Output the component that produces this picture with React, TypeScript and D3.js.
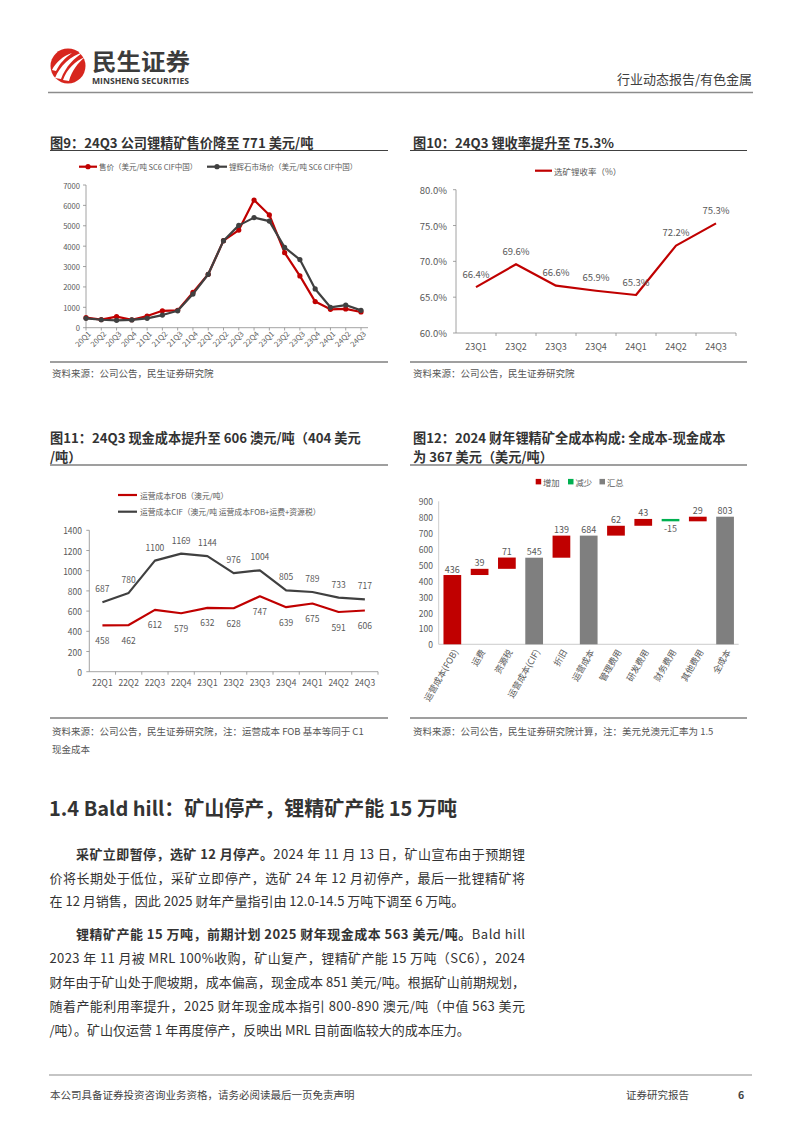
import React from 'react';
import * as d3 from 'd3';

const FONT = '"Noto Sans CJK SC", "Noto Sans", sans-serif';
const RED = '#C00000';
const DARK = '#404040';
const TXT = '#595959';
const AX = '#8C8C8C';

// Chart 1 (图9)
const quarters1 = ['20Q1','20Q2','20Q3','20Q4','21Q1','21Q2','21Q3','21Q4','22Q1','22Q2','22Q3','22Q4','23Q1','23Q2','23Q3','23Q4','24Q1','24Q2','24Q3'];
const salePrice = [490, 400, 540, 390, 570, 830, 850, 1730, 2620, 4270, 4790, 6260, 5530, 3680, 2540, 1280, 900, 920, 771];
const marketPrice = [460, 390, 360, 380, 460, 620, 830, 1650, 2620, 4270, 5020, 5400, 5230, 3940, 3340, 1900, 1000, 1110, 850];
const ticks1 = [0, 1000, 2000, 3000, 4000, 5000, 6000, 7000];

// Chart 2 (图10)
const quarters2 = ['23Q1','23Q2','23Q3','23Q4','24Q1','24Q2','24Q3'];
const recovery = [66.4, 69.6, 66.6, 65.9, 65.3, 72.2, 75.3];
const ticks2 = [60, 65, 70, 75, 80];

// Chart 3 (图11)
const quarters3 = ['22Q1','22Q2','22Q3','22Q4','23Q1','23Q2','23Q3','23Q4','24Q1','24Q2','24Q3'];
const costFOB = [458, 462, 612, 579, 632, 628, 747, 639, 675, 591, 606];
const costCIF = [687, 780, 1100, 1169, 1144, 976, 1004, 805, 789, 733, 717];
const ticks3 = [0, 200, 400, 600, 800, 1000, 1200, 1400];

// Chart 4 (图12)
const items4 = ['运营成本(FOB)','运费','资源税','运营成本(CIF)','折旧','运营成本','管理费用','研发费用','财务费用','其他费用','全成本'];
const values4 = [436, 39, 71, 545, 139, 684, 62, 43, -15, 29, 803];
const types4 = ['inc','inc','inc','total','inc','total','inc','inc','dec','inc','total'];
const ticks4 = [0, 100, 200, 300, 400, 500, 600, 700, 800, 900];

function Chart1() {
  const x = d3.scalePoint<string>().domain(quarters1).range([86, 361]);
  const y = d3.scaleLinear().domain([0, 7000]).range([327.7, 185]);
  const line = d3.line<number>().x((_, i) => x(quarters1[i])!).y(d => y(d));
  return (
    <g fontFamily={FONT}>
      <line x1={79} x2={97} y1={166.7} y2={166.7} stroke={RED} strokeWidth={2.2} />
      <circle cx={88} cy={166.7} r={2.6} fill={RED} />
      <text x={99} y={166.7} fontSize={7.5} fill={TXT} dominantBaseline="central">售价（美元/吨 SC6 CIF中国）</text>
      <line x1={207} x2={227} y1={166.7} y2={166.7} stroke={DARK} strokeWidth={2.2} />
      <circle cx={217} cy={166.7} r={2.6} fill={DARK} />
      <text x={229} y={166.7} fontSize={7.5} fill={TXT} dominantBaseline="central">锂辉石市场价（美元/吨 SC6 CIF中国）</text>
      <line x1={86} x2={86} y1={185} y2={327.7} stroke={AX} strokeWidth={0.8} />
      <line x1={86} x2={368} y1={327.7} y2={327.7} stroke={AX} strokeWidth={0.8} />
      {ticks1.map(t => (
        <g key={t}>
          <line x1={83} x2={86} y1={y(t)} y2={y(t)} stroke={AX} strokeWidth={0.8} />
          <text x={80} y={y(t)} fontSize={7.6} fill={TXT} textAnchor="end" dominantBaseline="central">{t}</text>
        </g>
      ))}
      {quarters1.map(q => (
        <g key={q}>
          <line x1={x(q)!} x2={x(q)!} y1={327.7} y2={330.5} stroke={AX} strokeWidth={0.8} />
          <text transform={`translate(${x(q)! + 3},${332}) rotate(-45)`} fontSize={7.6} fill={TXT} textAnchor="end" dominantBaseline="central">{q}</text>
        </g>
      ))}
      <path d={line(salePrice)!} fill="none" stroke={RED} strokeWidth={2.2} strokeLinejoin="round" />
      {salePrice.map((v, i) => <circle key={i} cx={x(quarters1[i])!} cy={y(v)} r={2.6} fill={RED} />)}
      <path d={line(marketPrice)!} fill="none" stroke={DARK} strokeWidth={2.2} strokeLinejoin="round" />
      {marketPrice.map((v, i) => <circle key={i} cx={x(quarters1[i])!} cy={y(v)} r={2.6} fill={DARK} />)}
    </g>
  );
}

function Chart2() {
  const x = d3.scaleBand<string>().domain(quarters2).range([456, 736]);
  const y = d3.scaleLinear().domain([60, 80]).range([333, 189.7]);
  const cx = (i: number) => x(quarters2[i])! + x.bandwidth() / 2;
  const line = d3.line<number>().x((_, i) => cx(i)).y(d => y(d));
  return (
    <g fontFamily={FONT}>
      <line x1={535} x2={552} y1={170.7} y2={170.7} stroke={RED} strokeWidth={2.2} />
      <text x={554} y={170.7} fontSize={8.5} fill={TXT} dominantBaseline="central">选矿锂收率（%）</text>
      <line x1={456} x2={456} y1={189.7} y2={333} stroke={AX} strokeWidth={0.8} />
      <line x1={456} x2={736} y1={333} y2={333} stroke={AX} strokeWidth={0.8} />
      {ticks2.map(t => (
        <g key={t}>
          <line x1={453} x2={456} y1={y(t)} y2={y(t)} stroke={AX} strokeWidth={0.8} />
          <text x={447} y={y(t)} fontSize={9.5} fill={TXT} textAnchor="end" dominantBaseline="central">{t.toFixed(1)}%</text>
        </g>
      ))}
      {quarters2.map((q, i) => (
        <g key={q}>
          <line x1={x(q)! + x.bandwidth()} x2={x(q)! + x.bandwidth()} y1={333} y2={336} stroke={AX} strokeWidth={0.8} />
          <text x={cx(i)} y={346.7} fontSize={9} fill={TXT} textAnchor="middle" dominantBaseline="central">{q}</text>
        </g>
      ))}
      <path d={line(recovery)!} fill="none" stroke={RED} strokeWidth={2.2} strokeLinejoin="round" />
      {recovery.map((v, i) => (
        <text key={i} x={cx(i)} y={y(v) - 13.5} fontSize={9.5} fill={TXT} textAnchor="middle" dominantBaseline="central">{v.toFixed(1)}%</text>
      ))}
    </g>
  );
}

function Chart3() {
  const x = d3.scaleBand<string>().domain(quarters3).range([89.3, 378]);
  const y = d3.scaleLinear().domain([0, 1400]).range([671.7, 530.3]);
  const cx = (i: number) => x(quarters3[i])! + x.bandwidth() / 2;
  const line = d3.line<number>().x((_, i) => cx(i)).y(d => y(d));
  return (
    <g fontFamily={FONT}>
      <line x1={118} x2={137} y1={495} y2={495} stroke={RED} strokeWidth={2.2} />
      <text x={140} y={495} fontSize={7.8} fill={TXT} dominantBaseline="central">运营成本FOB（澳元/吨）</text>
      <line x1={118} x2={137} y1={511.7} y2={511.7} stroke={DARK} strokeWidth={2.2} />
      <text x={140} y={511.7} fontSize={7.8} fill={TXT} dominantBaseline="central">运营成本CIF（澳元/吨 运营成本FOB+运费+资源税）</text>
      <line x1={89.3} x2={89.3} y1={530.3} y2={671.7} stroke={AX} strokeWidth={0.8} />
      <line x1={89.3} x2={378} y1={671.7} y2={671.7} stroke={AX} strokeWidth={0.8} />
      {ticks3.map(t => (
        <g key={t}>
          <line x1={86.3} x2={89.3} y1={y(t)} y2={y(t)} stroke={AX} strokeWidth={0.8} />
          <text x={82} y={y(t)} fontSize={8.5} fill={TXT} textAnchor="end" dominantBaseline="central">{t}</text>
        </g>
      ))}
      {quarters3.map((q, i) => (
        <g key={q}>
          <line x1={x(q)! + x.bandwidth()} x2={x(q)! + x.bandwidth()} y1={671.7} y2={674.7} stroke={AX} strokeWidth={0.8} />
          <text x={cx(i)} y={682} fontSize={8.5} fill={TXT} textAnchor="middle" dominantBaseline="central">{q}</text>
        </g>
      ))}
      <path d={line(costCIF)!} fill="none" stroke={DARK} strokeWidth={2.2} strokeLinejoin="round" />
      <path d={line(costFOB)!} fill="none" stroke={RED} strokeWidth={2.2} strokeLinejoin="round" />
      {costCIF.map((v, i) => (
        <text key={'c' + i} x={cx(i)} y={y(v) - 14} fontSize={8.5} fill={TXT} textAnchor="middle" dominantBaseline="central">{v}</text>
      ))}
      {costFOB.map((v, i) => (
        <text key={'f' + i} x={cx(i)} y={y(v) + 14.5} fontSize={8.5} fill={TXT} textAnchor="middle" dominantBaseline="central">{v}</text>
      ))}
    </g>
  );
}

function Chart4() {
  const x = d3.scaleBand<string>().domain(items4).range([438.7, 738.7]).paddingInner(0.35).paddingOuter(0.175);
  const y = d3.scaleLinear().domain([0, 900]).range([644.3, 501.3]);
  let run = 0;
  const bars = values4.map((v, i) => {
    const t = types4[i];
    let lo: number, hi: number;
    if (t === 'total') { lo = 0; hi = v; run = v; }
    else if (v >= 0) { lo = run; hi = run + v; run = hi; }
    else { lo = run + v; hi = run; run = lo; }
    const color = t === 'total' ? '#7F7F7F' : t === 'dec' ? '#00B050' : RED;
    return { name: items4[i], v, t, lo, hi, color };
  });
  return (
    <g fontFamily={FONT}>
      <rect x={535.7} y={478.9} width={5.5} height={5.5} fill={RED} />
      <text x={543} y={481.7} fontSize={8.3} fill={TXT} dominantBaseline="central">增加</text>
      <rect x={568} y={478.9} width={5.5} height={5.5} fill="#00B050" />
      <text x={575.5} y={481.7} fontSize={8.3} fill={TXT} dominantBaseline="central">减少</text>
      <rect x={599.5} y={478.9} width={5.5} height={5.5} fill="#7F7F7F" />
      <text x={607} y={481.7} fontSize={8.3} fill={TXT} dominantBaseline="central">汇总</text>
      <line x1={438.7} x2={438.7} y1={501.3} y2={644.3} stroke="#BFBFBF" strokeWidth={0.8} />
      <line x1={438.7} x2={738.7} y1={644.3} y2={644.3} stroke="#BFBFBF" strokeWidth={0.8} />
      {ticks4.map(t => (
        <text key={t} x={433} y={y(t)} fontSize={8.5} fill={TXT} textAnchor="end" dominantBaseline="central">{t}</text>
      ))}
      {bars.map(b => (
        <g key={b.name}>
          <rect x={x(b.name)!} y={y(b.hi)} width={x.bandwidth()} height={Math.max(1, y(b.lo) - y(b.hi))} fill={b.color} />
          <text x={x(b.name)! + x.bandwidth() / 2} y={b.t === 'dec' ? y(b.lo) + 7 : y(b.hi) - 6} fontSize={9} fill={TXT} textAnchor="middle" dominantBaseline="central">{b.v}</text>
          <text transform={`translate(${x(b.name)! + x.bandwidth() / 2 + 3},${650}) rotate(-60)`} fontSize={8.8} fill={TXT} textAnchor="end" dominantBaseline="central">{b.name}</text>
        </g>
      ))}
    </g>
  );
}

function Logo() {
  return (
    <g>
      <circle cx={68} cy={66} r={17.5} fill="#D7261E" />
      <path d="M55,78 C60,66 70,56 84,52 C74,58 66,66 61,79 Z" fill="#fff" />
      <path d="M63,80 C67,69 75,61 85,57 C78,63 72,70 69,81 Z" fill="#fff" />
      <path d="M52,70 C56,62 63,56 72,53 C65,58 60,63 56,71 Z" fill="#fff" />
      <text x={92} y={70} fontSize={22.5} fontWeight={700} fill="#3C3C3C" fontFamily={FONT} textLength={98} lengthAdjust="spacingAndGlyphs">民生证券</text>
      <text x={92} y={84} fontSize={8} fontWeight={700} fill="#3C3C3C" fontFamily={'"Open Sans", "Noto Sans", sans-serif'} textLength={97} lengthAdjust="spacingAndGlyphs">MINSHENG SECURITIES</text>
    </g>
  );
}

const BODY = '#333333';
const para1 = [
  { bold: '采矿立即暂停，选矿 12 月停产。', rest: '2024 年 11 月 13 日，矿山宣布由于预期锂', indent: true, full: true },
  { bold: '', rest: '价将长期处于低位，采矿立即停产，选矿 24 年 12 月初停产，最后一批锂精矿将', indent: false, full: true },
  { bold: '', rest: '在 12 月销售，因此 2025 财年产量指引由 12.0-14.5 万吨下调至 6 万吨。', indent: false, full: false },
];
const para2 = [
  { bold: '锂精矿产能 15 万吨，前期计划 2025 财年现金成本 563 美元/吨。', rest: 'Bald hill', indent: true, full: true },
  { bold: '', rest: '2023 年 11 月被 MRL 100%收购，矿山复产，锂精矿产能 15 万吨（SC6），2024', indent: false, full: true },
  { bold: '', rest: '财年由于矿山处于爬坡期，成本偏高，现金成本 851 美元/吨。根据矿山前期规划，', indent: false, full: true },
  { bold: '', rest: '随着产能利用率提升，2025 财年现金成本指引 800-890 澳元/吨（中值 563 美元', indent: false, full: true },
  { bold: '', rest: '/吨）。矿山仅运营 1 年再度停产，反映出 MRL 目前面临较大的成本压力。', indent: false, full: false },
];
const lineY1 = [853, 876.5, 900];
const lineY2 = [933, 957, 981, 1005, 1028.5];

function Para({ lines, ys }: { lines: typeof para1; ys: number[] }) {
  return (
    <g fontFamily={FONT} fontSize={13} fill={BODY}>
      {lines.map((l, i) => {
        const x0 = l.indent ? 76 : 49.5;
        const props: any = l.full ? { textLength: 525 - x0, lengthAdjust: 'spacing' } : {};
        return (
          <text key={i} x={x0} y={ys[i]} dominantBaseline="central" {...props}>
            {l.bold ? <tspan fontWeight={700}>{l.bold}</tspan> : null}
            <tspan>{l.rest}</tspan>
          </text>
        );
      })}
    </g>
  );
}

export default function App() {
  return (
    <svg width={802} height={1133} viewBox="0 0 802 1133" style={{ position: 'absolute', left: 0, top: 0, background: '#fff' }}>
      <rect x={0} y={0} width={802} height={1133} fill="#fff" />
      <Logo />
      <text x={752} y={78} fontSize={13} fill={DARK} textAnchor="end" dominantBaseline="central" fontFamily={FONT}>行业动态报告/有色金属</text>
      <line x1={48} x2={753} y1={92.5} y2={92.5} stroke="#8C8C8C" strokeWidth={1.5} />

      <g fontFamily={FONT} fontWeight={700} fontSize={13.2} fill="#333">
        <text x={50} y={142} dominantBaseline="central">图9：24Q3 公司锂精矿售价降至 771 美元/吨</text>
        <text x={413} y={142} dominantBaseline="central">图10：24Q3 锂收率提升至 75.3%</text>
        <text x={50} y={437} dominantBaseline="central">图11：24Q3 现金成本提升至 606 澳元/吨（404 美元</text>
        <text x={50} y={456} dominantBaseline="central">/吨）</text>
        <text x={413} y={437} dominantBaseline="central">图12：2024 财年锂精矿全成本构成: 全成本-现金成本</text>
        <text x={413} y={456} dominantBaseline="central">为 367 美元（美元/吨）</text>
      </g>
      <g stroke={DARK} strokeWidth={1.2}>
        <line x1={50} x2={388} y1={150.5} y2={150.5} />
        <line x1={410} x2={747} y1={150.5} y2={150.5} />
        <line x1={50} x2={388} y1={362} y2={362} />
        <line x1={410} x2={747} y1={362} y2={362} />
        <line x1={50} x2={388} y1={465} y2={465} />
        <line x1={410} x2={747} y1={465} y2={465} />
        <line x1={50} x2={388} y1={718} y2={718} />
        <line x1={410} x2={747} y1={718} y2={718} />
      </g>
      <Chart1 />
      <Chart2 />
      <Chart3 />
      <Chart4 />
      <g fontFamily={FONT} fontSize={9.5} fill="#555">
        <text x={52} y={373} dominantBaseline="central">资料来源：公司公告，民生证券研究院</text>
        <text x={413} y={373} dominantBaseline="central">资料来源：公司公告，民生证券研究院</text>
        <text x={52} y={731} dominantBaseline="central">资料来源：公司公告，民生证券研究院，注：运营成本 FOB 基本等同于 C1</text>
        <text x={52} y={749} dominantBaseline="central">现金成本</text>
        <text x={413} y={731} dominantBaseline="central">资料来源：公司公告，民生证券研究院计算，注：美元兑澳元汇率为 1.5</text>
      </g>

      <text x={49} y={807} fontSize={20} fontWeight={700} fill="#333" fontFamily={FONT} dominantBaseline="central">1.4 Bald hill：矿山停产，锂精矿产能 15 万吨</text>
      <Para lines={para1} ys={lineY1} />
      <Para lines={para2} ys={lineY2} />

      <line x1={49} x2={752} y1={1075} y2={1075} stroke="#8C8C8C" strokeWidth={1.2} />
      <g fontFamily={FONT} fontSize={10.5} fill="#444">
        <text x={50} y={1094} dominantBaseline="central">本公司具备证券投资咨询业务资格，请务必阅读最后一页免责声明</text>
        <text x={626} y={1094} dominantBaseline="central">证券研究报告</text>
        <text x={738} y={1094} fontWeight={700} dominantBaseline="central">6</text>
      </g>
    </svg>
  );
}
